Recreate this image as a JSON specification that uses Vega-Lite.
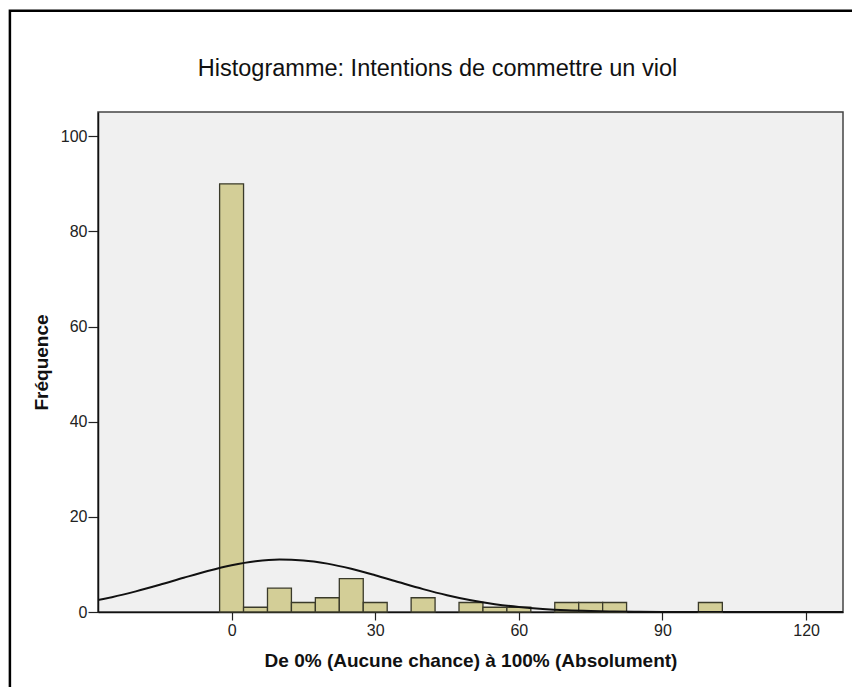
{
  "$schema": "https://vega.github.io/schema/vega-lite/v6.json",
  "autosize": "none",
  "width": 745,
  "height": 500,
  "padding": {"left": 98, "top": 112, "right": 9, "bottom": 75},
  "background": "white",
  "title": {
    "text": "Histogramme: Intentions de commettre un viol",
    "font": "Liberation Sans",
    "fontSize": 23.5,
    "fontWeight": "normal",
    "color": "#111111",
    "anchor": "middle",
    "frame": "group",
    "baseline": "alphabetic",
    "offset": -90,
    "dx": -33
  },
  "config": {
    "view": {"fill": "#F0F0F0", "stroke": "#444444", "strokeWidth": 1.5},
    "axis": {
      "labelFont": "Liberation Sans",
      "titleFont": "Liberation Sans",
      "labelColor": "#222222",
      "titleColor": "#111111",
      "tickColor": "#222222",
      "domainColor": "#111111",
      "domainWidth": 1.5,
      "tickWidth": 1.2,
      "grid": false
    }
  },
  "datasets": {
    "bins": [
      {"bin_start": -2.5, "bin_end": 2.5, "count": 90},
      {"bin_start": 2.5, "bin_end": 7.5, "count": 1},
      {"bin_start": 7.5, "bin_end": 12.5, "count": 5},
      {"bin_start": 12.5, "bin_end": 17.5, "count": 2},
      {"bin_start": 17.5, "bin_end": 22.5, "count": 3},
      {"bin_start": 22.5, "bin_end": 27.5, "count": 7},
      {"bin_start": 27.5, "bin_end": 32.5, "count": 2},
      {"bin_start": 37.5, "bin_end": 42.5, "count": 3},
      {"bin_start": 47.5, "bin_end": 52.5, "count": 2},
      {"bin_start": 52.5, "bin_end": 57.5, "count": 1},
      {"bin_start": 57.5, "bin_end": 62.5, "count": 1},
      {"bin_start": 67.5, "bin_end": 72.5, "count": 2},
      {"bin_start": 72.5, "bin_end": 77.5, "count": 2},
      {"bin_start": 77.5, "bin_end": 82.5, "count": 2},
      {"bin_start": 97.5, "bin_end": 102.5, "count": 2}
    ],
    "curve": [
      {"x": -30, "y": 2.14}, {"x": -25, "y": 3.12}, {"x": -20, "y": 4.33},
      {"x": -15, "y": 5.71}, {"x": -10, "y": 7.19}, {"x": -5, "y": 8.61},
      {"x": 0, "y": 9.82}, {"x": 5, "y": 10.66}, {"x": 10, "y": 11.02},
      {"x": 15, "y": 10.85}, {"x": 20, "y": 10.17}, {"x": 25, "y": 9.08},
      {"x": 30, "y": 7.71}, {"x": 35, "y": 6.24}, {"x": 40, "y": 4.81},
      {"x": 45, "y": 3.53}, {"x": 50, "y": 2.46}, {"x": 55, "y": 1.64},
      {"x": 60, "y": 1.04}, {"x": 65, "y": 0.63}, {"x": 70, "y": 0.36},
      {"x": 75, "y": 0.2}, {"x": 80, "y": 0.1}, {"x": 85, "y": 0.05},
      {"x": 90, "y": 0.02}, {"x": 95, "y": 0.01}, {"x": 100, "y": 0},
      {"x": 110, "y": 0}, {"x": 120, "y": 0}, {"x": 130, "y": 0}
    ]
  },
  "layer": [
    {
      "data": {"name": "bins"},
      "mark": {"type": "bar", "fill": "#D3CE97", "stroke": "#3A3A2A", "strokeWidth": 1.3},
      "encoding": {
        "x": {
          "field": "bin_start",
          "type": "quantitative",
          "scale": {"domain": [-27.9, 127.7], "nice": false, "zero": false},
          "axis": {
            "values": [0, 30, 60, 90, 120],
            "title": "De 0% (Aucune chance) à 100% (Absolument)",
            "labelFontSize": 16,
            "titleFontSize": 19,
            "titleFontWeight": "bold",
            "tickSize": 8,
            "labelPadding": 2,
            "titlePadding": 13
          }
        },
        "x2": {"field": "bin_end"},
        "y": {
          "field": "count",
          "type": "quantitative",
          "scale": {"domain": [0, 105.1], "nice": false},
          "axis": {
            "values": [0, 20, 40, 60, 80, 100],
            "title": "Fréquence",
            "labelFontSize": 16,
            "titleFontSize": 19,
            "titleFontWeight": "bold",
            "tickSize": 10,
            "labelPadding": 1,
            "titlePadding": 9
          }
        },
        "y2": {"datum": 0}
      }
    },
    {
      "data": {"name": "curve"},
      "mark": {"type": "line", "color": "#111111", "strokeWidth": 2, "interpolate": "monotone", "clip": true},
      "encoding": {
        "x": {"field": "x", "type": "quantitative"},
        "y": {"field": "y", "type": "quantitative"}
      }
    },
    {
      "data": {"values": [{}]},
      "mark": {"type": "rect", "fill": null, "stroke": "#000000", "strokeWidth": 2.5, "clip": false},
      "encoding": {
        "x": {"datum": -46.3},
        "x2": {"datum": 140},
        "y": {"datum": 126.4},
        "y2": {"datum": -20}
      }
    }
  ]
}
